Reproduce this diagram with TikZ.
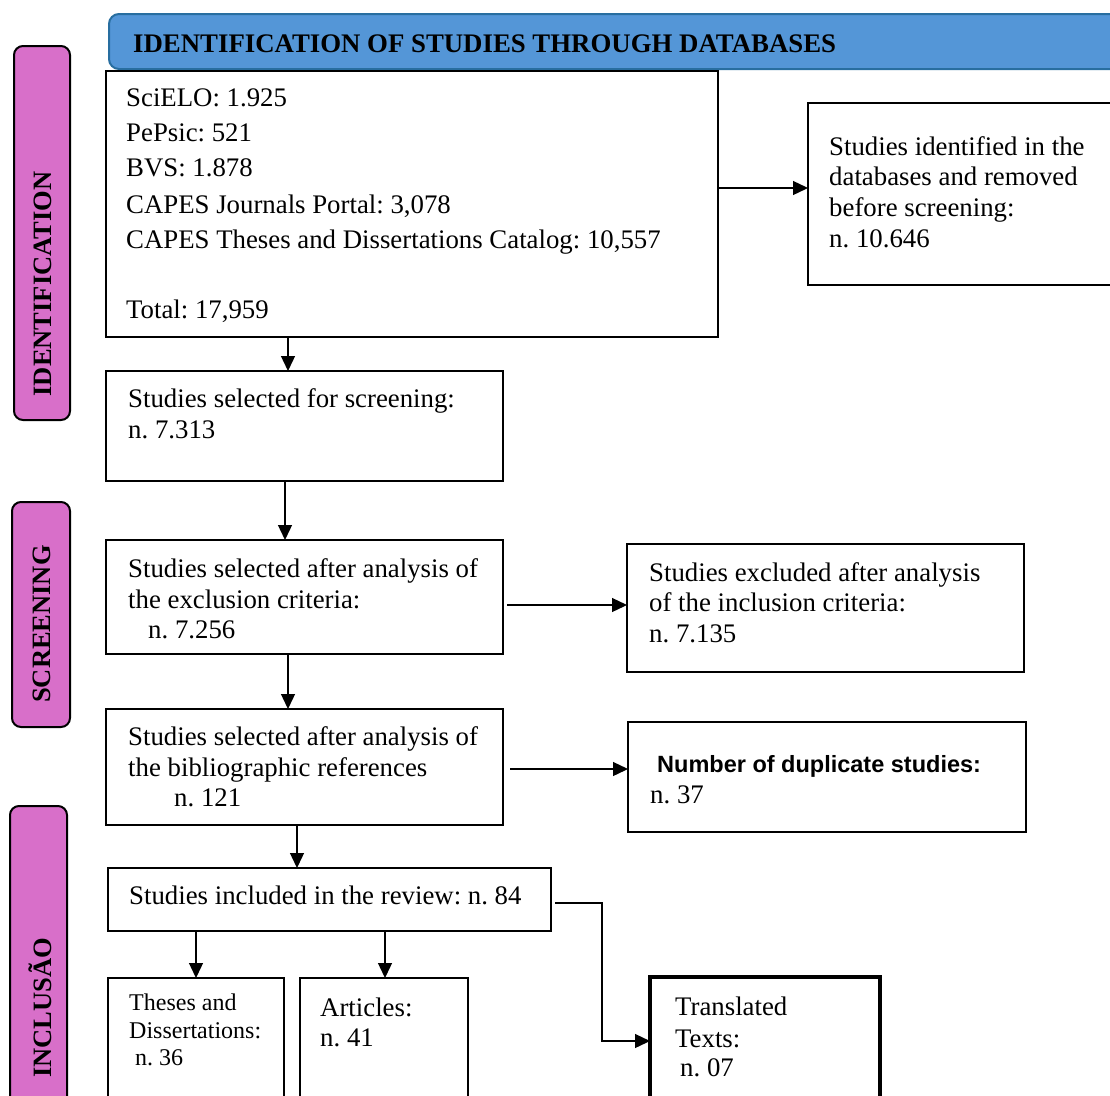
\documentclass[tikz,border=0pt]{standalone}
\usepackage{fontspec}
\setmainfont{Liberation Serif}
\newfontfamily\dupfont{Liberation Sans}
\usetikzlibrary{arrows.meta}
\frenchspacing
\definecolor{barpink}{RGB}{216,111,201}
\definecolor{hdrblue}{RGB}{84,150,215}
\definecolor{hdredge}{RGB}{40,110,160}
\begin{document}
\begin{tikzpicture}[x=1pt,y=-1pt,
  box/.style={draw,line width=2pt,anchor=north west,inner sep=0pt,outer sep=0pt},
  t/.style={anchor=base west,inner sep=0pt,font=\fontsize{26.8}{30}\selectfont},
  ts/.style={anchor=base west,inner sep=0pt,font=\fontsize{24}{28}\selectfont},
  phase/.style={draw,line width=2pt,fill=barpink,rounded corners=9pt,anchor=north west,inner sep=0pt,outer sep=0pt},
  phaselbl/.style={rotate=90,inner sep=0pt,font=\bfseries\fontsize{26.5}{28}\selectfont},
  arr/.style={-{Triangle[length=15pt,width=14pt]},line width=1.3pt}]
\useasboundingbox (0,0) rectangle (1110,1095);
\clip (0,0) rectangle (1110,1095);

% header
\node[draw=hdredge,line width=2pt,fill=hdrblue,rounded corners=10pt,anchor=north west,inner sep=0pt,
      minimum width=1040pt,minimum height=55pt] (hdr) at (108,13) {};
\node[anchor=base west,inner sep=0pt,font=\bfseries\fontsize{26.8}{28}\selectfont] (hdrt) at (133,52)
  {IDENTIFICATION OF STUDIES THROUGH DATABASES};

% phase bars
\node[phase,minimum width=56pt,minimum height=374pt] (pid) at (14,46) {};
\node[phaselbl] (pidt) at (43,284) {IDENTIFICATION};
\node[phase,minimum width=58pt,minimum height=225pt] (pscr) at (12,502) {};
\node[phaselbl] (pscrt) at (42,624) {SCREENING};
\node[phase,minimum width=57pt,minimum height=330pt] (pinc) at (10,806) {};
\node[phaselbl] (pinct) at (40,1008) {INCLUSÃO};

% boxes
\node[box,line width=2.5pt,minimum width=612pt,minimum height=266pt] (db) at (106,71) {};
\node[box,minimum width=330pt,minimum height=182pt] (rem) at (808,103) {};
\node[box,minimum width=397pt,minimum height=110pt] (sel) at (106,371) {};
\node[box,minimum width=397pt,minimum height=114pt] (crit) at (106,540) {};
\node[box,minimum width=397pt,minimum height=128pt] (exc) at (627,544) {};
\node[box,minimum width=397pt,minimum height=116pt] (bib) at (106,709) {};
\node[box,minimum width=398pt,minimum height=110pt] (dup) at (628,722) {};
\node[box,line width=2.5pt,minimum width=443pt,minimum height=63pt] (inc) at (108,868) {};
\node[box,line width=1.3pt,minimum width=176pt,minimum height=160pt] (thes) at (108,978) {};
\node[box,line width=1.3pt,minimum width=168pt,minimum height=160pt] (art) at (300,978) {};
\node[box,line width=4.5pt,minimum width=230pt,minimum height=160pt] (tra) at (650,977) {};

% texts
\node[t] (db1) at (126,106) {SciELO: 1.925};
\node[t] (db2) at (126,141) {PePsic: 521};
\node[t] (db3) at (126,176) {BVS: 1.878};
\node[t] (db4) at (126,213) {CAPES Journals Portal: 3,078};
\node[t] (db5) at (126,248) {CAPES Theses and Dissertations Catalog: 10,557};
\node[t] (db6) at (126,318) {Total: 17,959};

\node[t] (rem1) at (829,155) {Studies identified in the};
\node[t] (rem2) at (829,185) {databases and removed};
\node[t] (rem3) at (829,216) {before screening:};
\node[t] (rem4) at (829,247) {n. 10.646};

\node[t] (sel1) at (128,407) {Studies selected for screening:};
\node[t] (sel2) at (128,438) {n. 7.313};

\node[t] (crit1) at (128,577) {Studies selected after analysis of};
\node[t] (crit2) at (128,608) {the exclusion criteria:};
\node[t] (crit3) at (148,638) {n. 7.256};

\node[t] (exc1) at (649,581) {Studies excluded after analysis};
\node[t] (exc2) at (649,611) {of the inclusion criteria:};
\node[t] (exc3) at (649,642) {n. 7.135};

\node[t] (bib1) at (128,745) {Studies selected after analysis of};
\node[t] (bib2) at (128,776) {the bibliographic references};
\node[t] (bib3) at (174,806) {n. 121};

\node[anchor=base west,inner sep=0pt,font=\dupfont\bfseries\fontsize{23.5}{28}\selectfont] (dup1) at (657,772) {Number of duplicate studies:};
\node[t] (dup2) at (650,803) {n. 37};

\node[t] (inc1) at (129,904) {Studies included in the review: n. 84};

\node[ts] (thes1) at (129,1010) {Theses and};
\node[ts] (thes2) at (129,1038) {Dissertations:};
\node[ts] (thes3) at (135,1065) {n. 36};

\node[t] (art1) at (320,1016) {Articles:};
\node[t] (art2) at (320,1046) {n. 41};

\node[t] (tra1) at (675,1015) {Translated};
\node[t] (tra2) at (675,1047) {Texts:};
\node[t] (tra3) at (680,1076) {n. 07};

% connectors
\draw[arr] ([xshift=182pt]db.south west) -- ([xshift=182pt]sel.north west);
\draw[arr] ([yshift=-117pt]db.north east) -- ([yshift=-85pt]rem.north west);
\draw[arr] ([xshift=179pt]sel.south west) -- ([xshift=179pt]crit.north west);
\draw[arr] ([xshift=4pt,yshift=-65pt]crit.north east) -- ([yshift=-61pt]exc.north west);
\draw[arr] ([xshift=182pt]crit.south west) -- ([xshift=182pt]bib.north west);
\draw[arr] ([xshift=7pt,yshift=-60pt]bib.north east) -- ([yshift=-47pt]dup.north west);
\draw[arr] ([xshift=191pt]bib.south west) -- ([xshift=189pt]inc.north west);
\draw[arr] ([xshift=88pt]inc.south west) -- ([xshift=88pt]thes.north west);
\draw[arr] ([xshift=277pt]inc.south west) -- ([xshift=85pt]art.north west);
\draw[arr] ([xshift=4pt,yshift=-35pt]inc.north east) -- ++(47,0) |- ([yshift=-64pt]tra.north west);
\end{tikzpicture}
\end{document}
